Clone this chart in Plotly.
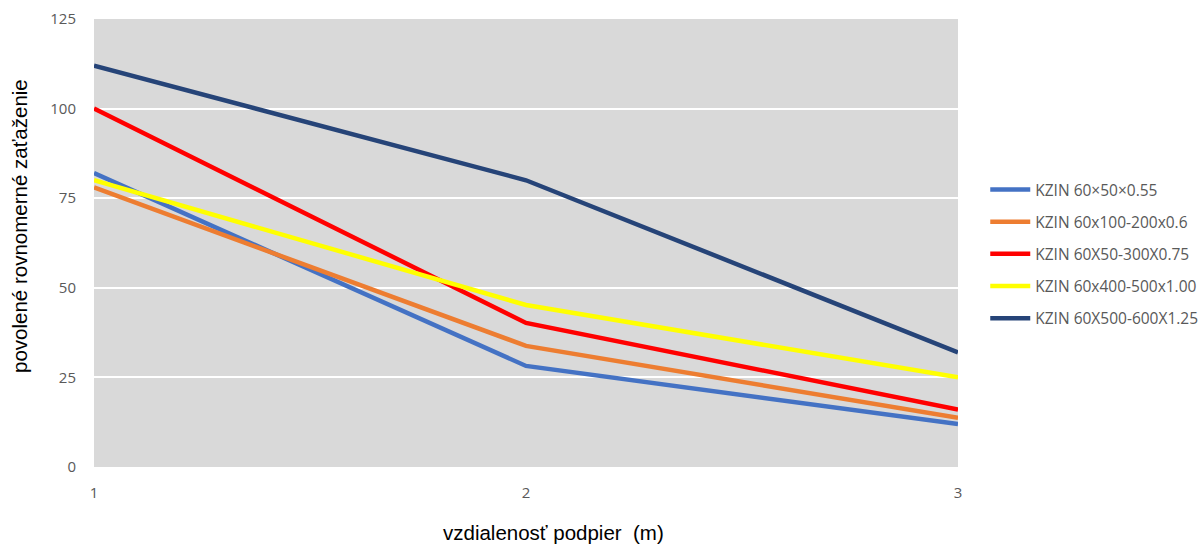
import plotly.graph_objects as go

x_vals = [1, 2, 3]
series_names = ["KZIN 60×50×0.55", "KZIN 60x100-200x0.6", "KZIN 60X50-300X0.75",
                "KZIN 60x400-500x1.00", "KZIN 60X500-600X1.25"]
blue = [82, 28.2, 12]
orange = [78, 33.8, 13.7]
red = [100, 40.2, 16]
yellow = [80, 45.2, 25]
navy = [112, 80, 32]
y_ticks = [0, 25, 50, 75, 100, 125]
x_ticks = [1, 2, 3]
x_title = "vzdialenosť podpier &nbsp;(m)"
y_title = "povolené rovnomerné zaťaženie"

colors = ["#4472c4", "#ed7d31", "#ff0000", "#ffff00", "#264478"]
data = [blue, orange, red, yellow, navy]

fig = go.Figure()
for i, (name, vals, c) in enumerate(zip(series_names, data, colors)):
    fig.add_trace(go.Scatter(x=x_vals, y=vals, name=name, mode="lines", legendgroup=f"g{i}",
                             line=dict(color=c, width=4.5)))

fig.update_layout(
    width=1203, height=545,
    margin=dict(l=94, r=245, t=19, b=78, autoexpand=False),
    paper_bgcolor="white",
    plot_bgcolor="#d9d9d9",
    font=dict(family="Open Sans", color="#595959", size=15),
    legend=dict(xref="container", yref="container", x=0.819, y=0.534,
                yanchor="middle", xanchor="left",
                font=dict(size=15.5, color="#595959"), tracegroupgap=9,
                itemwidth=40),
    showlegend=True,
    annotations=[
        dict(text=x_title, xref="paper", yref="paper", x=0.532, y=-0.146,
             xanchor="center", yanchor="middle", showarrow=False,
             font=dict(size=20.5, color="#000000", family="Liberation Sans")),
        dict(text=y_title, xref="paper", yref="paper", x=0, xshift=-74, y=0.538,
             xanchor="center", yanchor="middle", showarrow=False, textangle=-90,
             font=dict(size=20.5, color="#000000", family="Liberation Sans")),
    ],
)
fig.update_xaxes(range=[1, 3], tickvals=x_ticks, showgrid=False, zeroline=False,
                 automargin=False,
                 ticklabelstandoff=15, tickfont=dict(size=15, color="#595959"))
fig.update_yaxes(range=[0, 125], tickvals=y_ticks, showgrid=True, gridcolor="white",
                 gridwidth=1.5, zeroline=False, automargin=False, ticklabelstandoff=17,
                 tickfont=dict(size=15, color="#595959"))

fig.write_html("out.html", config={"displayModeBar": False},
               post_script="document.body.style.margin='0';document.body.style.overflow='hidden';")
